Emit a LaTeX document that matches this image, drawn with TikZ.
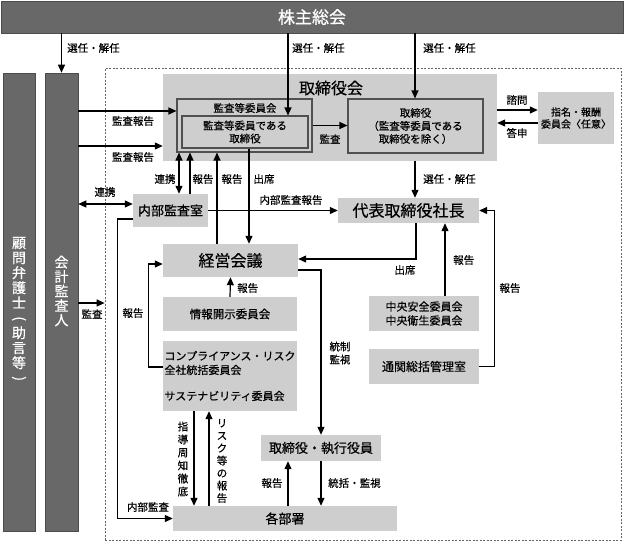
\documentclass[tikz,border=0pt]{standalone}
\usepackage{fontspec}
\setmainfont{Noto Sans CJK JP}[FakeBold=0.5]
\usepackage{graphicx}
\usepackage{tikz}
\usetikzlibrary{arrows.meta}
\definecolor{bargray}{RGB}{104,104,104}
\definecolor{boxgray}{RGB}{206,206,206}
\definecolor{edgegray}{RGB}{80,80,80}
\tikzset{%
    darkbar/.style={fill=bargray, draw=black!70, line width=0.6pt, text=white, inner sep=0pt, align=center},
    graybox/.style={fill=boxgray, draw=none, inner sep=0pt, align=center},
    framed/.style={fill=boxgray, draw=edgegray, line width=1.1pt, inner sep=0pt, align=center},
    lbl/.style={font=\fontsize{10.5}{13}\selectfont, inner sep=1pt, align=center},
    conn/.style={line width=1.2pt}
}

\begin{document}
\begin{tikzpicture}[x=1pt, y=-1pt, >={Triangle[length=8pt,width=7pt]}]
    \useasboundingbox (0,0) rectangle (624,544);
    % outer bars
    \node[darkbar, minimum width=622pt, minimum height=32pt, font=\fontsize{17}{20}\selectfont] (soukai) at (312,17) {株主総会};
    \node[darkbar, minimum width=32pt, minimum height=458pt] (bengoshi) at (19,302) {};
    \node[text=white, font=\fontsize{14}{15}\selectfont, align=center, inner sep=0pt] (bengoshittl) at (19,310)
        {顧\\問\\弁\\護\\士\\\rotatebox[origin=c]{-90}{(}\\助\\言\\等\\\rotatebox[origin=c]{-90}{)}};
    \node[darkbar, minimum width=33pt, minimum height=458pt] (kansanin) at (61.5,302) {};
    \node[text=white, font=\fontsize{14}{14.5}\selectfont, align=center, inner sep=0pt] (kansaninttl) at (61.5,291)
        {会\\計\\監\\査\\人};
    \node[draw=black!60, dash pattern=on 2pt off 1.5pt, line width=0.7pt, minimum width=516pt, minimum height=472pt, inner sep=0pt] (group) at (363,304) {};

    % board
    \node[graybox, minimum width=334pt, minimum height=87pt] (board) at (330,117.5) {};
    \node[font=\fontsize{16}{18}\selectfont, inner sep=0pt] (boardttl) at (331,88) {取締役会};
    \node[framed, minimum width=135pt, minimum height=53pt] (iinkai) at (244.5,125.5) {};
    \node[font=\fontsize{10.5}{12}\selectfont, inner sep=0pt] (iinkaittl) at (245,108) {監査等委員会};
    \node[framed, minimum width=126pt, minimum height=32pt, font=\fontsize{10.5}{13}\selectfont] (iintori) at (245,132) {監査等委員である\\取締役};
    \node[framed, minimum width=135pt, minimum height=54pt, font=\fontsize{10.5}{13}\selectfont] (tori) at (415.5,126) {取締役\\（監査等委員である\\取締役を除く）};
    \node[graybox, minimum width=76pt, minimum height=52pt, font=\fontsize{10}{12}\selectfont] (shimei) at (576,118) {指名・報酬\\委員会〈任意〉};

    % executive side
    \node[graybox, minimum width=75pt, minimum height=33pt, font=\fontsize{13}{15}\selectfont] (naibu) at (170.5,210.5) {内部監査室};
    \node[graybox, minimum width=141pt, minimum height=25pt, font=\fontsize{16}{18}\selectfont] (shacho) at (408.5,210.5) {代表取締役社長};
    \node[graybox, minimum width=135pt, minimum height=33pt, font=\fontsize{16}{18}\selectfont] (keiei) at (230.5,260.5) {経営会議};
    \node[graybox, minimum width=134pt, minimum height=34pt, font=\fontsize{11.5}{13}\selectfont] (joho) at (230,314) {情報開示委員会};
    \node[graybox, minimum width=134pt, minimum height=70pt, font=\fontsize{11}{14}\selectfont, align=left] (comp) at (230,376)
        {コンプライアンス・リスク\\全社統括委員会\\[12pt]サステナビリティ委員会};
    \node[graybox, minimum width=110pt, minimum height=35pt, font=\fontsize{11}{14}\selectfont] (chuo) at (424,313.5) {中央安全委員会\\中央衛生委員会};
    \node[graybox, minimum width=110pt, minimum height=35pt, font=\fontsize{12}{14}\selectfont] (tsukan) at (424,366.5) {通関総括管理室};
    \node[graybox, minimum width=120pt, minimum height=26pt, font=\fontsize{13}{15}\selectfont] (yakuin) at (321,448) {取締役・執行役員};
    \node[graybox, minimum width=224pt, minimum height=25pt, font=\fontsize{13}{15}\selectfont] (kakubu) at (285,518.5) {各部署};

    % from shareholders
    \draw[conn,->] (soukai.south -| kansanin.north) -- (kansanin.north);
    \node[lbl, anchor=west] (l1) at (66,48) {選任・解任};
    \draw[conn,->] (soukai.south -| 288,0) -- (iintori.north -| 288,0);
    \node[lbl, anchor=west] (l2) at (291,48) {選任・解任};
    \draw[conn,->] (soukai.south -| 415,0) -- (tori.north -| 415,0);
    \node[lbl, anchor=west] (l3) at (422,48) {選任・解任};

    % audit
    \draw[conn,->] (kansanin.east |- 0,111) -- (iinkai.west |- 0,111);
    \node[lbl] (l4) at (133,121) {監査報告};
    \draw[conn,->] (kansanin.east |- 0,146) -- (board.west |- 0,146);
    \node[lbl] (l5) at (133,157) {監査報告};
    \draw[conn,->] (iinkai.east) -- (tori.west |- iinkai.east);
    \node[lbl] (l6) at (330,139) {監査};
    \draw[conn,->] (board.east |- 0,110) -- (shimei.west |- 0,110);
    \node[lbl] (l7) at (517,100) {諮問};
    \draw[conn,->] (shimei.west |- 0,123) -- (board.east |- 0,123);
    \node[lbl] (l8) at (517,133) {答申};

    % below the board
    \draw[conn,<->] (iinkai.south -| 179,0) -- (naibu.north -| 179,0);
    \node[lbl] (l9) at (165,179) {連携};
    \draw[conn,->] (naibu.north -| 190,0) -- (iinkai.south -| 190,0);
    \node[lbl] (l10) at (203,179) {報告};
    \draw[conn,->] (keiei.north -| 217,0) -- (iinkai.south -| 217,0);
    \node[lbl] (l11) at (232,179) {報告};
    \draw[conn,->] (iintori.south -| 249,0) -- (keiei.north -| 249,0);
    \node[lbl] (l12) at (264,179) {出席};
    \draw[conn,<->] (kansanin.east |- 0,204) -- (naibu.west |- 0,204);
    \node[lbl] (l13) at (105,192) {連携};
    \draw[conn,->] (naibu.east) -- (shacho.west);
    \node[lbl] (l14) at (291,200) {内部監査報告};
    \draw[conn,->] (board.south -| 415,0) -- (shacho.north -| 415,0);
    \node[lbl, anchor=west] (l15) at (422,179) {選任・解任};
    \draw[conn,->] (shacho.south -| 416,0) |- (keiei.east |- 0,259);
    \node[lbl] (l16) at (405,270) {出席};

    % management meeting
    \draw[conn,->] (joho.north) -- (keiei.south);
    \node[lbl, anchor=west] (l17) at (236,288) {報告};
    \draw[conn,->] (comp.west |- 0,367) -- ++(-14,0) |- (keiei.west |- 0,264);
    \node[lbl] (l18) at (133,313) {報告};
    \draw[conn,->] (keiei.east |- 0,270) -| (yakuin.north);
    \node[lbl] (l19) at (340,353) {統制\\監視};
    \draw[conn,->] (yakuin.south) -- (kakubu.north -| yakuin.south);
    \node[lbl, anchor=west] (l20) at (327,483) {統括・監視};
    \draw[conn,->] (kakubu.north -| 288,0) -- (yakuin.south -| 288,0);
    \node[lbl] (l21) at (272,483) {報告};
    \draw[conn,->] (comp.south -| 194,0) -- (kakubu.north -| 194,0);
    \node[lbl] (l22) at (183,459) {指\\導\\周\\知\\徹\\底};
    \draw[conn,->] (kakubu.north -| 209,0) -- (comp.south -| 209,0);
    \node[lbl, font=\fontsize{10.5}{12.5}\selectfont] (l23) at (222,461) {リ\\ス\\ク\\等\\の\\報\\告};
    \draw[conn,->] (naibu.west |- 0,219) -- ++(-15,0) |- (kakubu.west);
    \node[lbl] (l24) at (148,507) {内部監査};

    % reports to president
    \draw[conn,->] (chuo.north -| 445,0) -- (shacho.south -| 445,0);
    \node[lbl, anchor=west] (l25) at (452,260) {報告};
    \draw[conn,->] (tsukan.east) -- ++(15,0) |- (shacho.east);
    \node[lbl] (l26) at (510,288) {報告};
    \draw[conn,->] (kansanin.east |- 0,303) -- (group.west |- 0,303);
    \node[lbl] (l27) at (92,314) {監査};
\end{tikzpicture}
\end{document}
